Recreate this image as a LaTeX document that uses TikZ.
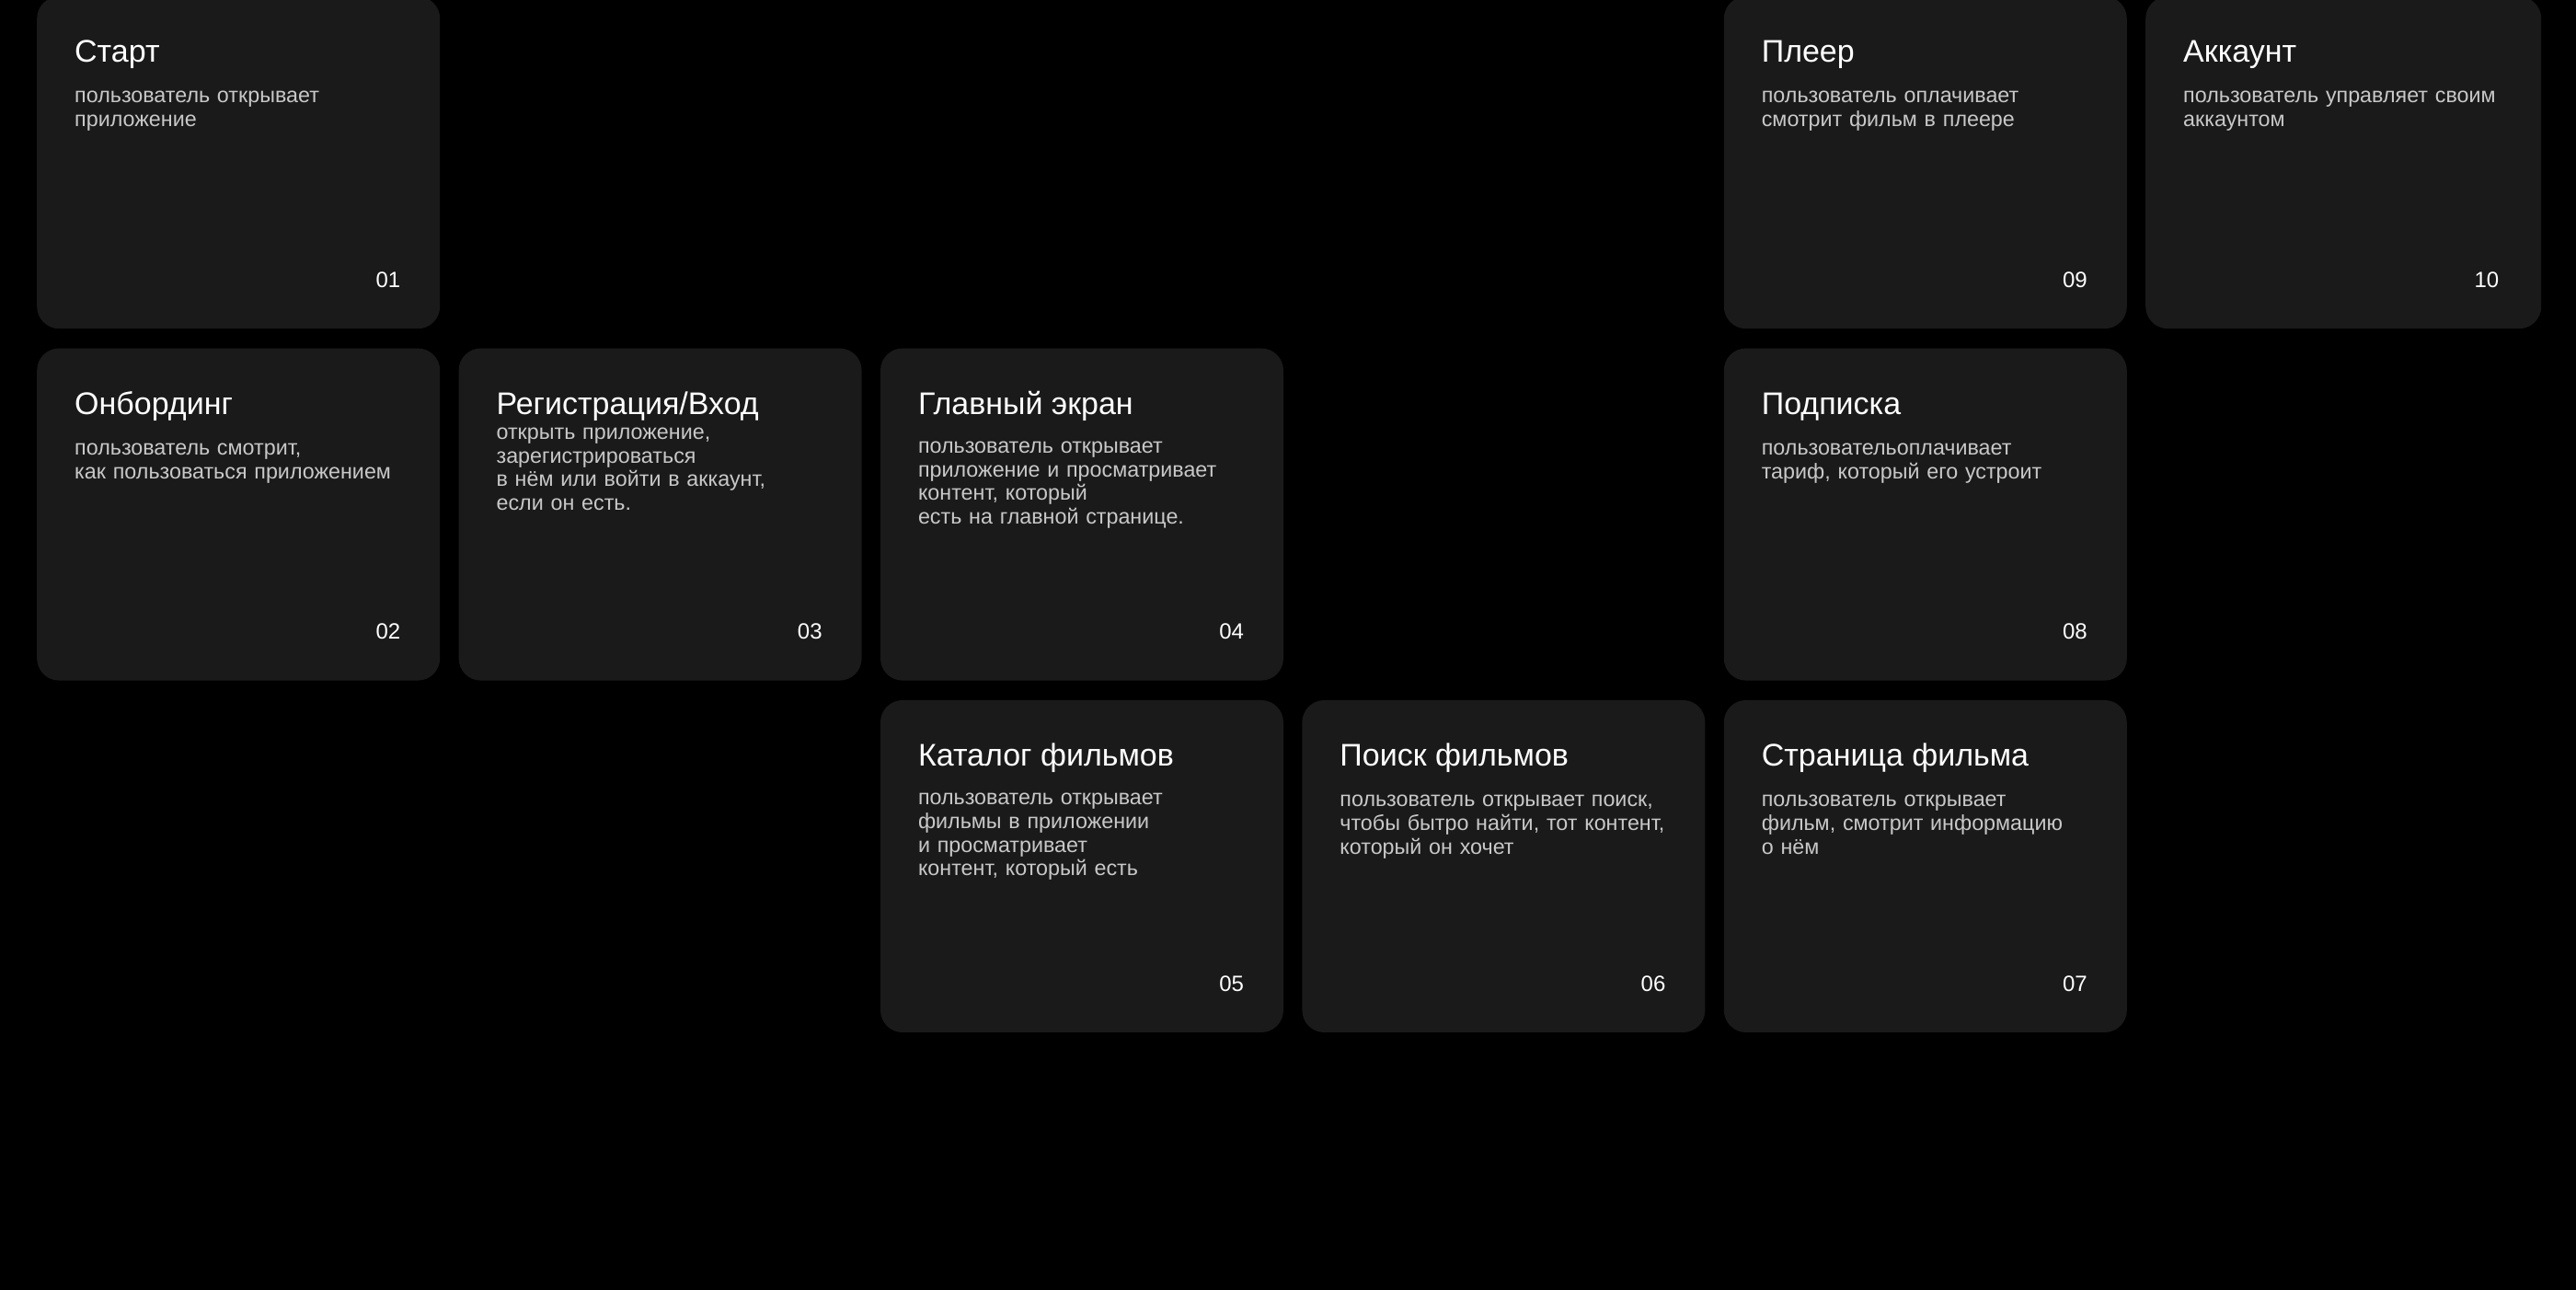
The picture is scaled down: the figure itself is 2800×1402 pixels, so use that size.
\documentclass[tikz,border=0pt]{standalone}
\usepackage{fontspec}
\setmainfont{Liberation Sans}
\usetikzlibrary{positioning}

\definecolor{cardfill}{HTML}{1A1A1A}
\definecolor{bodygray}{HTML}{C8C8C8}

\begin{document}
\begin{tikzpicture}[x=1pt, y=1pt, node distance={21pt and 20pt},
	card/.style={fill=cardfill, rounded corners=24pt, minimum width=438pt, minimum height=361pt, inner sep=0pt, anchor=north west},
	head/.style={text=white, font=\fontsize{34}{40}\selectfont, inner sep=0pt, anchor=base west},
	body/.style={text=bodygray, font=\fontsize{23.3}{25.7}\selectfont, inner sep=0pt, text width=390pt, align=left, anchor=base west},
	num/.style={text=white, font=\fontsize{24}{28}\selectfont, inner sep=0pt, anchor=base east}]
		\fill[black] (0,0) rectangle (2800,1402);
		\useasboundingbox (0,0) rectangle (2800,1402);

		% cards
		\node[card] (c1) at (40,1406) {};
		\node[card] (c2) [below=of c1.south west, anchor=north west] {};
		\node[card] (c3) [right=of c2.north east, anchor=north west] {};
		\node[card] (c4) [right=of c3.north east, anchor=north west] {};
		\node[card] (c5) [below=of c4.south west, anchor=north west] {};
		\node[card] (c6) [right=of c5.north east, anchor=north west] {};
		\node[card] (c7) [right=of c6.north east, anchor=north west] {};
		\node[card] (c8) [above=of c7.north west, anchor=south west] {};
		\node[card] (c9) [above=of c8.north west, anchor=south west] {};
		\node[card, minimum width=430pt] (c10) [right=of c9.north east, anchor=north west] {};

		% texts
		\node[head] (h1) at ([xshift=41pt, yshift=-72pt]c1.north west) {Старт};
		\node[body] (b1) at ([xshift=41pt, yshift=-116pt]c1.north west) {пользователь открывает\\приложение};
		\node[num] (n1) at ([xshift=-43pt, yshift=45pt]c1.south east) {01};

		\node[head] (h2) at ([xshift=41pt, yshift=-72pt]c2.north west) {Онбординг};
		\node[body] (b2) at ([xshift=41pt, yshift=-116pt]c2.north west) {пользователь смотрит,\\как пользоваться приложением};
		\node[num] (n2) at ([xshift=-43pt, yshift=45pt]c2.south east) {02};

		\node[head] (h3) at ([xshift=41pt, yshift=-72pt]c3.north west) {Регистрация/Вход};
		\node[body] (b3) at ([xshift=41pt, yshift=-99pt]c3.north west) {открыть приложение,\\зарегистрироваться\\в нём или войти в аккаунт,\\если он есть.};
		\node[num] (n3) at ([xshift=-43pt, yshift=45pt]c3.south east) {03};

		\node[head] (h4) at ([xshift=41pt, yshift=-72pt]c4.north west) {Главный экран};
		\node[body] (b4) at ([xshift=41pt, yshift=-114pt]c4.north west) {пользователь открывает\\приложение и просматривает\\контент, который\\есть на главной странице.};
		\node[num] (n4) at ([xshift=-43pt, yshift=45pt]c4.south east) {04};

		\node[head] (h5) at ([xshift=41pt, yshift=-72pt]c5.north west) {Каталог фильмов};
		\node[body] (b5) at ([xshift=41pt, yshift=-114pt]c5.north west) {пользователь открывает\\фильмы в приложении\\и просматривает\\контент, который есть};
		\node[num] (n5) at ([xshift=-43pt, yshift=45pt]c5.south east) {05};

		\node[head] (h6) at ([xshift=41pt, yshift=-72pt]c6.north west) {Поиск фильмов};
		\node[body] (b6) at ([xshift=41pt, yshift=-116pt]c6.north west) {пользователь открывает поиск,\\чтобы бытро найти, тот контент,\\который он хочет};
		\node[num] (n6) at ([xshift=-43pt, yshift=45pt]c6.south east) {06};

		\node[head] (h7) at ([xshift=41pt, yshift=-72pt]c7.north west) {Страница фильма};
		\node[body] (b7) at ([xshift=41pt, yshift=-116pt]c7.north west) {пользователь открывает\\фильм, смотрит информацию\\о нём};
		\node[num] (n7) at ([xshift=-43pt, yshift=45pt]c7.south east) {07};

		\node[head] (h8) at ([xshift=41pt, yshift=-72pt]c8.north west) {Подписка};
		\node[body] (b8) at ([xshift=41pt, yshift=-116pt]c8.north west) {пользовательоплачивает\\тариф, который его устроит};
		\node[num] (n8) at ([xshift=-43pt, yshift=45pt]c8.south east) {08};

		\node[head] (h9) at ([xshift=41pt, yshift=-72pt]c9.north west) {Плеер};
		\node[body] (b9) at ([xshift=41pt, yshift=-116pt]c9.north west) {пользователь оплачивает\\смотрит фильм в плеере};
		\node[num] (n9) at ([xshift=-43pt, yshift=45pt]c9.south east) {09};

		\node[head] (h10) at ([xshift=41pt, yshift=-72pt]c10.north west) {Аккаунт};
		\node[body] (b10) at ([xshift=41pt, yshift=-116pt]c10.north west) {пользователь управляет своим\\аккаунтом};
		\node[num] (n10) at ([xshift=-46pt, yshift=45pt]c10.south east) {10};
	\end{tikzpicture}
\end{document}
